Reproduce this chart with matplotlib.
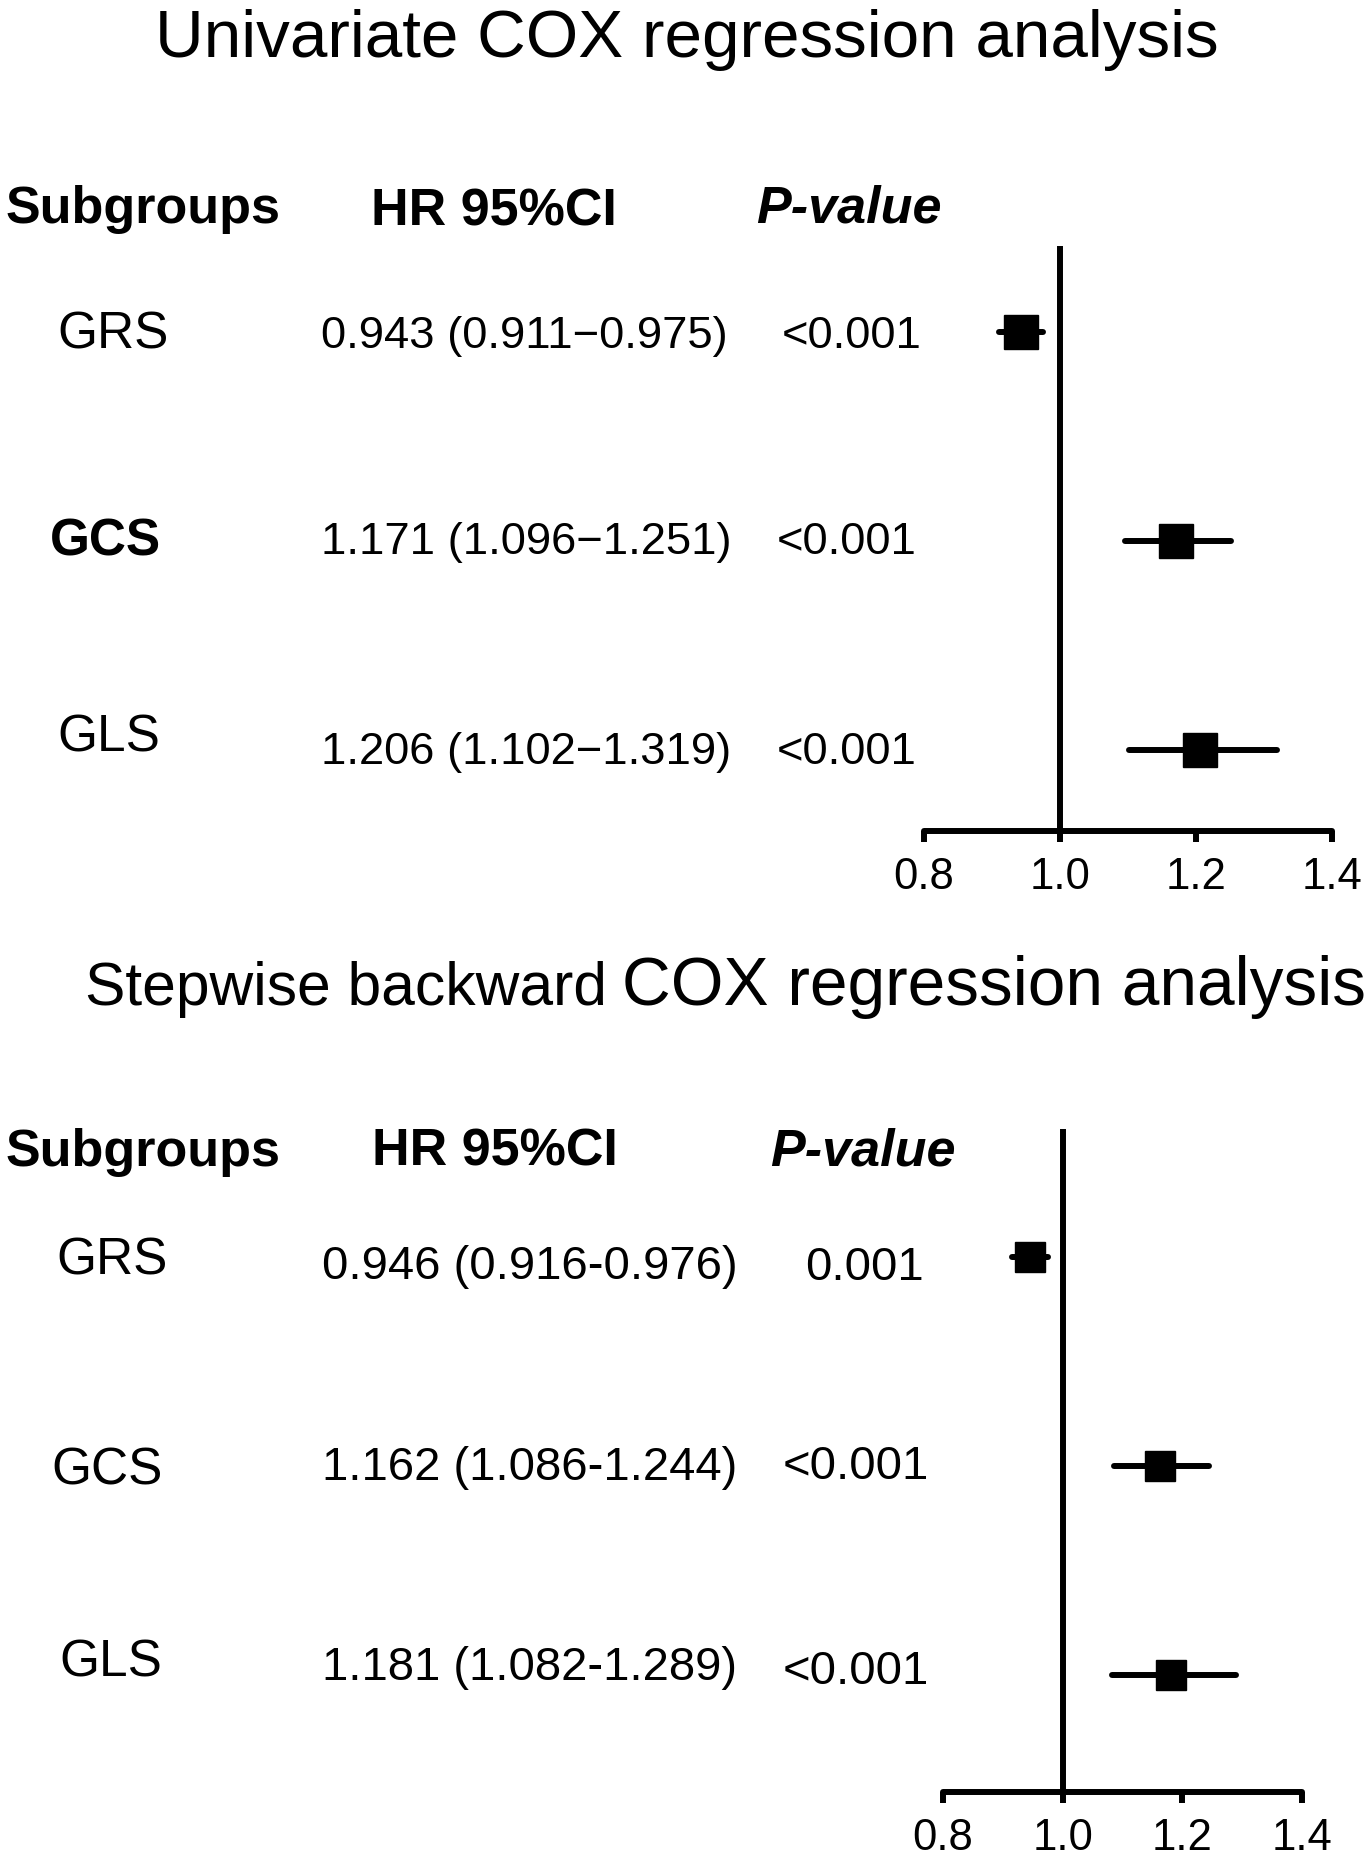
import matplotlib
matplotlib.use('Agg')
import matplotlib.pyplot as plt
from matplotlib import transforms

plt.rcParams['font.family'] = ['Liberation Sans', 'DejaVu Sans']

# ---- data ----
subgroups = ['GRS', 'GCS', 'GLS']

uni_hr = [0.943, 1.171, 1.206]
uni_lo = [0.911, 1.096, 1.102]
uni_hi = [0.975, 1.251, 1.319]
uni_p = ['<0.001', '<0.001', '<0.001']

step_hr = [0.946, 1.162, 1.181]
step_lo = [0.916, 1.086, 1.082]
step_hi = [0.976, 1.244, 1.289]
step_p = ['0.001', '<0.001', '<0.001']

hr_ticks = [0.8, 1.0, 1.2, 1.4]
headers = ['Subgroups', 'HR 95%CI', 'P-value']

W, H = 1370, 1860
fig = plt.figure(figsize=(W / 100, H / 100), dpi=100)
fig.patch.set_facecolor('white')

LW = 4.3


def cap(size):
    return 0.716 * size * 100 / 72


def px_rect(x0, x1, ytop, ybot):
    return [x0 / W, 1 - ybot / H, (x1 - x0) / W, (ybot - ytop) / H]


def fig_text(x, ycenter, s, size, **kw):
    fig.text(x / W, 1 - (ycenter + cap(size) / 2) / H, s, fontsize=size,
             va='baseline', ha='left', **kw)


def row_text(ax, x, row, s, size, dy=0, **kw):
    tr = transforms.blended_transform_factory(fig.transFigure, ax.transData) + \
        transforms.ScaledTranslation(0, (-cap(size) / 2 - dy) / 100, fig.dpi_scale_trans)
    ax.text(x / W, row, s, transform=tr, fontsize=size, va='baseline', ha='left',
            clip_on=False, **kw)


def forest(rect, ylim, hr, lo, hi, pvals, sep, box, lab_x, lab_dy, lab_w, hr_x, hr_dy,
           p_x, p_dy, txt_size):
    ax = fig.add_axes(rect)
    rows = list(range(1, len(hr) + 1))
    ax.set_xlim(0.8, 1.4)
    ax.set_ylim(*ylim)
    ax.hlines(rows, lo, hi, colors='black', lw=LW, capstyle='round', clip_on=False)
    ax.plot(hr, rows, 's', color='black', markersize=box, clip_on=False)
    ax.axvline(1.0, color='black', lw=LW, clip_on=False)
    for s in ['left', 'top', 'right']:
        ax.spines[s].set_visible(False)
    ax.spines['bottom'].set_linewidth(LW)
    ax.spines['bottom'].set_capstyle('round')
    ax.spines['bottom'].set_bounds(0.8, 1.4)
    ax.set_xticks(hr_ticks)
    ax.set_xticklabels([f'{t:.1f}' for t in hr_ticks])
    ax.tick_params(axis='x', length=8, width=LW, labelsize=31.5, pad=11)
    ax.set_yticks([])
    ax.patch.set_alpha(0)
    for i, r in enumerate(rows):
        row_text(ax, lab_x[i], r, subgroups[i], 37, lab_dy[i], fontweight=lab_w[i])
        row_text(ax, hr_x, r, f'{hr[i]:.3f} ({lo[i]:.3f}{sep}{hi[i]:.3f})', txt_size, hr_dy[i])
        row_text(ax, p_x[i], r, pvals[i], txt_size, p_dy[i])
    return ax


# ---- top panel: univariate ----
fig.text(687 / W, 1 - (33 + cap(48.5) / 2) / H, 'Univariate COX regression analysis',
         fontsize=48.5, ha='center', va='baseline')
fig_text(6, 204, headers[0], 37.5, fontweight='bold')
fig_text(371, 207, headers[1], 37.5, fontweight='bold')
fig_text(756, 204, headers[2], 37.5, fontweight='bold', fontstyle='italic')

forest(px_rect(924, 1332, 249, 831), (3.39, 0.603), uni_hr, uni_lo, uni_hi, uni_p,
       '\u2212', 25, [57, 50, 57], [-2, -4, -16], ['normal', 'bold', 'normal'],
       321, [0, -3, -2], [782, 777, 777], [0, -3, -2], 32.7)

# ---- bottom panel: stepwise backward ----
fig.text(85 / W, 1 - (981 + cap(48.7) / 2) / H, 'Stepwise backward', fontsize=43.6,
         ha='left', va='baseline')
fig.text(622 / W, 1 - (981 + cap(48.7) / 2) / H, 'COX regression analysis', fontsize=48.7,
         ha='left', va='baseline')
fig_text(6, 1147, headers[0], 37.5, fontweight='bold')
fig_text(372, 1147, headers[1], 37.5, fontweight='bold')
fig_text(770, 1147, headers[2], 37.5, fontweight='bold', fontstyle='italic')

forest(px_rect(943, 1302, 1132, 1792), (3.56, 0.402), step_hr, step_lo, step_hi, step_p,
       '-', 22, [56, 51, 59], [-1, 0, -17], ['normal', 'normal', 'normal'],
       322, [5, -3, -12], [805, 783, 783], [6, -4, -8], 34)

fig.savefig('out.png', dpi=100, facecolor='white')
